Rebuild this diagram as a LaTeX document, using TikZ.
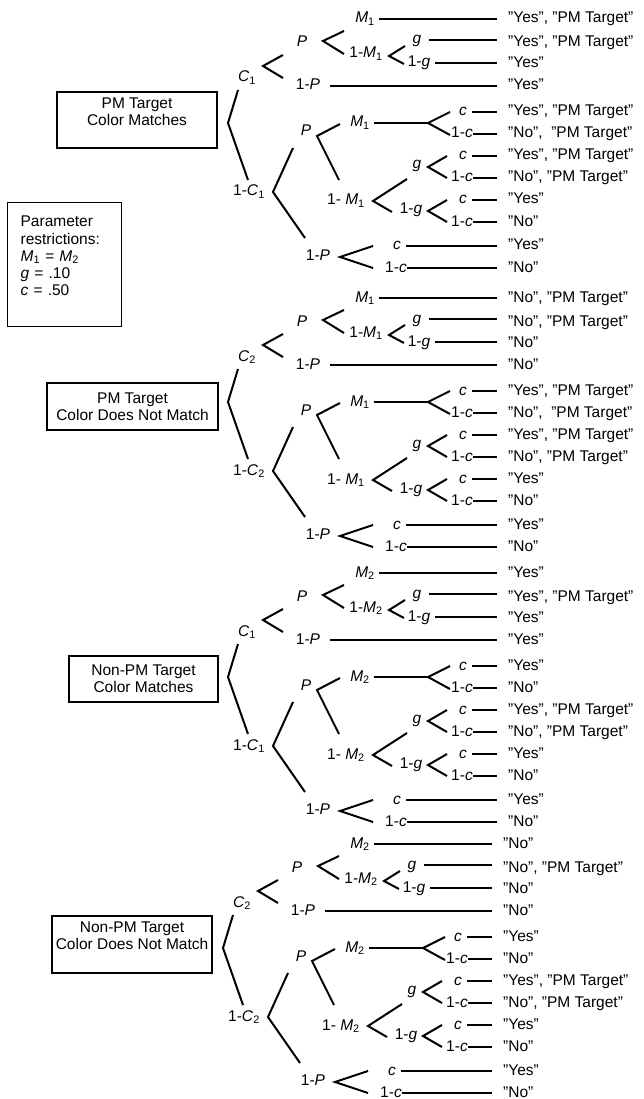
\documentclass[tikz,border=0pt]{standalone}
\usepackage{fontspec}
\setmainfont{Liberation Sans}
\newcommand\fk[4]{%
  \coordinate (#1v) at (#2); \coordinate (#1u) at (#3); \coordinate (#1l) at (#4);
  \draw[br] (#1u) -- (#1v) -- (#1l);}
\newcommand\hlin[3]{\draw[br] ([xshift=#3pt]#1.east) -- (#1.east -| #2);}
\newcommand\ital[2]{\textit{#1}\textsubscript{#2}}
\newcommand\dtree[6]{%
\begin{scope}[shift={(#2,#3)}]
  \foreach \t [count=\i] in {#6} {
    \pgfmathsetmacro\ry{{19,43,64,86,112,134,156,178,200,222,246,268}[\i-1]}
    \node[outtxt] (#1o\i) at (508,\ry) {\t};
    \coordinate (#1e\i) at (497,\ry);
  }
  % root fork
  \fk{#1r}{228,123}{238,90}{248,180}
  \node[lab] (#1C) at (247,78) {\ital{C}{#4}};
  \node[lab] (#1nC) at (249,192) {1-\ital{C}{#4}};
  % upper half
  \fk{#1fc}{263,66}{283,55}{283,78}
  \node[lab] (#1Pa) at (302,43) {\textit{P}};
  \node[lab] (#1nPa) at (308,86) {1-\textit{P}};
  \hlin{#1nPa}{#1e4}{10}
  \fk{#1fp}{323,41}{344,31}{344,54}
  \node[lab] (#1Ma) at (365,19) {\ital{M}{#5}};
  \hlin{#1Ma}{#1e1}{4}
  \node[lab] (#1nMa) at (366,54) {1-\ital{M}{#5}};
  \fk{#1fm}{389,56}{405,46}{404,64}
  \node[lab] (#1ga) at (417,40) {\textit{g}};
  \hlin{#1ga}{#1e2}{7}
  \node[lab] (#1nga) at (419,63) {1-\textit{g}};
  \hlin{#1nga}{#1e3}{5}
  % lower half
  \fk{#1fd}{273,192}{293,148}{305,238}
  \node[lab] (#1Pb) at (306,132) {\textit{P}};
  \fk{#1fq}{317,136}{340,124}{339,180}
  \node[lab] (#1Mb) at (360,123) {\ital{M}{#5}};
  \fk{#1fx}{428,123}{450,112}{450,135}
  \draw[br] ([xshift=4pt]#1Mb.east) -- (#1fxv);
  \node[lab] (#1ca) at (463,112) {\textit{c}};
  \hlin{#1ca}{#1e5}{5}
  \node[lab] (#1nca) at (462,134) {1-\textit{c}};
  \hlin{#1nca}{#1e6}{0}
  \node[lab] (#1nMb) at (346,201) {1- \ital{M}{#5}};
  \fk{#1fn}{373,201}{407,179}{392,212}
  \node[lab] (#1gb) at (417,165) {\textit{g}};
  \fk{#1fg}{428,167}{447,156}{447,178}
  \node[lab] (#1cb) at (463,156) {\textit{c}};
  \hlin{#1cb}{#1e7}{5}
  \node[lab] (#1ncb) at (462,178) {1-\textit{c}};
  \hlin{#1ncb}{#1e8}{0}
  \node[lab] (#1ngb) at (411,210) {1-\textit{g}};
  \fk{#1fh}{428,211}{447,200}{447,222}
  \node[lab] (#1cc) at (463,200) {\textit{c}};
  \hlin{#1cc}{#1e9}{5}
  \node[lab] (#1ncc) at (462,222) {1-\textit{c}};
  \hlin{#1ncc}{#1e10}{0}
  \node[lab] (#1nPb) at (318,256) {1-\textit{P}};
  \fk{#1fr}{340,257}{373,246}{373,268}
  \node[lab] (#1cd) at (397,246) {\textit{c}};
  \hlin{#1cd}{#1e11}{5}
  \node[lab] (#1ncd) at (396,268) {1-\textit{c}};
  \hlin{#1ncd}{#1e12}{0}
\end{scope}}
\begin{document}
\begin{tikzpicture}[x=1pt,y=-1pt,
  br/.style={line width=2pt},
  lab/.style={inner sep=0pt, text height=11pt, text depth=3pt, font=\fontsize{15.5}{17.3}\selectfont},
  outtxt/.style={lab, anchor=west},
  catbox/.style={draw, line width=2.2pt, align=center, inner sep=0pt, font=\fontsize{15.5}{17.3}\selectfont},
  pbox/.style={draw, line width=1.3pt, align=left, inner xsep=13pt, inner ysep=0pt, text width=88pt, minimum height=124pt, font=\fontsize{15.5}{17.3}\selectfont}]
\useasboundingbox (0,0) rectangle (644,1099);

\dtree{a}{0}{0}{1}{1}{{"Yes", "PM Target"},{"Yes", "PM Target"},{"Yes"},{"Yes"},{"Yes", "PM Target"},{"No",\ \ "PM Target"},{"Yes", "PM Target"},{"No", "PM Target"},{"Yes"},{"No"},{"Yes"},{"No"}}
\dtree{b}{0}{279}{2}{1}{{"No", "PM Target"},{"No", "PM Target"},{"No"},{"No"},{"Yes", "PM Target"},{"No",\ \ "PM Target"},{"Yes", "PM Target"},{"No", "PM Target"},{"Yes"},{"No"},{"Yes"},{"No"}}
\dtree{c}{0}{554}{1}{2}{{"Yes"},{"Yes", "PM Target"},{"Yes"},{"Yes"},{"Yes"},{"No"},{"Yes", "PM Target"},{"No", "PM Target"},{"Yes"},{"No"},{"Yes"},{"No"}}
\dtree{d}{-5}{825}{2}{2}{{"No"},{"No", "PM Target"},{"No"},{"No"},{"Yes"},{"No"},{"Yes", "PM Target"},{"No", "PM Target"},{"Yes"},{"No"},{"Yes"},{"No"}}

\node[catbox, minimum width=160pt, minimum height=56pt] (box1) at (137,120) {PM Target\\Color Matches\\\mbox{}};
\node[catbox, minimum width=171pt, minimum height=47pt] (box2) at (132.5,406.5) {PM Target\\Color Does Not Match};
\node[catbox, minimum width=149pt, minimum height=46pt] (box3) at (143.5,679) {Non-PM Target\\Color Matches};
\node[catbox, minimum width=160pt, minimum height=57pt] (box4) at (132,944.5) {Non-PM Target\\Color Does Not Match\\\mbox{}};

\node[pbox, anchor=north west] (par) at (7,202) {Parameter\\restrictions:\\\ital{M}{1} = \ital{M}{2}\\\textit{g} = .10\\\textit{c} = .50\\\mbox{}};
\end{tikzpicture}
\end{document}
